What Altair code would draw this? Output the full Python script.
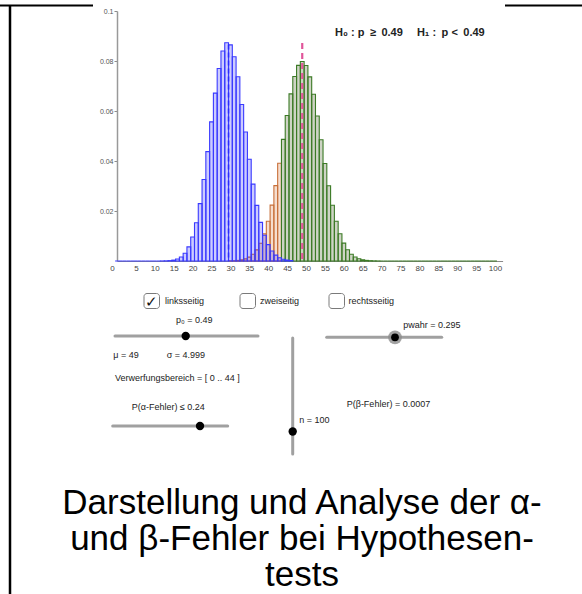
import altair as alt
import pandas as pd

# ---------------- data ----------------
# blue distribution (pwahr = 0.295), k = 0..46
blue_k = list(range(0, 47))
blue_p = [0, 0, 0, 0, 0, 0, 0, 0, 0, 0, 0, 0,
          0.00002, 0.00006, 0.00015, 0.00035, 0.00079, 0.00162, 0.00313, 0.00566,
          0.00959, 0.01529, 0.02297, 0.03259, 0.04375, 0.05565, 0.06717, 0.07703,
          0.08403, 0.0873, 0.08645, 0.08168, 0.0737, 0.06259, 0.05161, 0.04072,
          0.03077, 0.02227, 0.01545, 0.01028, 0.00656, 0.00402, 0.00236, 0.00133,
          0.00072, 0.00038, 0.00019]

# brown (rejection region part of p0 = 0.49 distribution), k = 30..43
brown_k = list(range(30, 44))
brown_p = [0.00005, 0.00011, 0.00023, 0.00045, 0.00085, 0.00155, 0.00268,
           0.00446, 0.0071, 0.01085, 0.0159, 0.02235, 0.03017, 0.0391]

# green (rest of p0 = 0.49 distribution), k = 44..100
green_k = list(range(44, 101))
green_p = [0.04866, 0.05818, 0.06684, 0.07378, 0.07827, 0.0798, 0.0782, 0.07366,
           0.06669, 0.05803, 0.04853, 0.039, 0.03011, 0.02233, 0.01591, 0.01088,
           0.00714, 0.0045, 0.00272, 0.00158, 0.00088, 0.00047, 0.00024, 0.00012,
           0.00005, 0.00002,
           0, 0, 0, 0, 0, 0, 0, 0, 0, 0, 0, 0, 0, 0, 0, 0, 0, 0, 0, 0, 0, 0, 0, 0,
           0, 0, 0, 0, 0, 0, 0]

mean_x = [29.5, 49]
mean_top = [0.0866, 0.0872]

x_ticks = list(range(0, 101, 5))
y_ticks = [0.02, 0.04, 0.06, 0.08, 0.1]

FONT = "Liberation Sans"
SP = "\u2002"  # en space (kept by SVG)

# ---------------- scales / axes ----------------
xs = alt.Scale(domain=[0, 102], range=[117, 502.6], nice=False, zero=False)
ys = alt.Scale(domain=[0, 0.1], range=[261, 11], nice=False)

xax = alt.Axis(values=x_ticks, title=None, offset=-333, grid=False, ticks=False,
               domainColor="#8a8a8a", domainWidth=1.2, labelFont=FONT,
               labelFontSize=8, labelColor="#444", labelPadding=3,
               labelFlush=False, labelOverlap=False,
               labelOffset={"condition": {"test": "datum.value == 0", "value": -5}, "value": 0})
yax = alt.Axis(values=y_ticks, title=None, offset=-117, grid=False, format=".2~f",
               tickSize=3, tickColor="#8a8a8a", domainColor="#999999", domainWidth=1.5,
               labelFont=FONT, labelFontSize=7, labelColor="#555", labelPadding=1)


def bars(k, p, stroke, fill, fop):
    df = pd.DataFrame({"k": k, "p": p})
    return alt.Chart(df).transform_calculate(
        lo="datum.k - 0.5", hi="datum.k + 0.5"
    ).mark_rect(stroke=stroke, strokeWidth=1.1, fill=fill, fillOpacity=fop).encode(
        x=alt.X("lo:Q", scale=xs, axis=xax),
        x2="hi:Q",
        y=alt.Y("p:Q", scale=ys, axis=yax),
        y2=alt.datum(0),
    )


def mean_line(i, color, dash, width):
    df = pd.DataFrame({"m": [mean_x[i]], "t": [mean_top[i]]})
    return alt.Chart(df).mark_rule(color=color, strokeDash=dash, strokeWidth=width).encode(
        x=alt.X("m:Q", scale=xs, axis=xax),
        y=alt.Y("t:Q", scale=ys, axis=yax),
        y2=alt.datum(0),
    )


one = pd.DataFrame({"d": [0]})


def txt(s, x, y, size=9, align="left", weight="normal", color="#222", baseline="middle"):
    return alt.Chart(one).mark_text(font=FONT, fontSize=size, align=align, fontWeight=weight,
                                    color=color, baseline=baseline).encode(
        x=alt.value(x), y=alt.value(y), text=alt.value(s))


def hline(x1, x2, y, color="#a0a0a0", width=3, cap="round"):
    return alt.Chart(one).mark_rule(color=color, strokeWidth=width, strokeCap=cap).encode(
        x=alt.value(x1), x2=alt.value(x2), y=alt.value(y))


def vline(x, y1, y2, color="#a0a0a0", width=3, cap="round"):
    return alt.Chart(one).mark_rule(color=color, strokeWidth=width, strokeCap=cap).encode(
        x=alt.value(x), y=alt.value(y1), y2=alt.value(y2))


def dot(x, y, size, color="black", opacity=1.0):
    return alt.Chart(one).mark_circle(size=size, color=color, opacity=opacity).encode(
        x=alt.value(x), y=alt.value(y))


def checkbox(x, y):
    return alt.Chart(one).mark_rect(fill="white", stroke="#7a7a7a", strokeWidth=1,
                                    cornerRadius=3).encode(
        x=alt.value(x), x2=alt.value(x + 15.5), y=alt.value(y), y2=alt.value(y + 15))


hyp = "H\u2080 : p" + SP + "\u2265" + SP + "0.49" + SP + SP + " H\u2081 :" + SP + "p <" + SP + "0.49"

layers = [
    bars(brown_k, brown_p, "#c8703a", "#e8a880", 0.38),
    bars(green_k, green_p, "#3b7a25", "#6b7d4f", 0.33),
    bars(blue_k, blue_p, "#3a3aff", "#0000ff", 0.2),
    mean_line(0, "#2a2aff", [5, 3], 1.5),
    mean_line(1, "#e0559a", [6, 4], 2.2),
    txt(hyp, 335, 33, size=11, weight="bold", color="#222"),
    # checkboxes
    checkbox(144, 293.5),
    txt("\u2713", 151.8, 301.5, size=15, align="center", color="#111"),
    txt("linksseitig", 165, 301),
    checkbox(240, 293.5),
    txt("zweiseitig", 260, 300.5),
    checkbox(329, 293.5),
    txt("rechtsseitig", 348.5, 301),
    # p0 slider
    txt("p\u2080 = 0.49", 176, 320),
    hline(115, 258, 336),
    dot(185.7, 336, 70),
    txt("\u03bc = 49", 113.3, 355),
    txt("\u03c3 = 4.999", 166.7, 355),
    txt("Verwerfungsbereich = [ 0 .. 44 ]", 115, 378),
    txt("P(\u03b1-Fehler) \u2264 0.24", 131.7, 406.7),
    hline(112.7, 227.7, 426),
    dot(200, 426, 70),
    # n slider (vertical)
    vline(292.7, 338, 454),
    dot(292.7, 431.5, 70),
    txt("n = 100", 299.3, 420),
    # pwahr slider
    txt("pwahr = 0.295", 403.3, 325),
    hline(326.7, 441.7, 337.3),
    dot(395, 337.3, 190, color="#8c8c8c", opacity=0.8),
    dot(395, 337.3, 60),
    txt("P(\u03b2-Fehler) = 0.0007", 346.7, 404),
    # frame lines
    vline(10, 5, 594, color="black", width=2.5, cap="butt"),
    hline(0, 93, 5.5, color="black", width=2.2, cap="butt"),
    hline(505, 582, 5.5, color="black", width=2.2, cap="butt"),
    # title
    txt("Darstellung und Analyse der \u03b1-", 302, 514, size=35, align="center", color="black", baseline="alphabetic"),
    txt("und \u03b2-Fehler bei Hypothesen-", 302, 550, size=35, align="center", color="black", baseline="alphabetic"),
    txt("tests", 302, 586, size=35, align="center", color="black", baseline="alphabetic"),
]

chart = alt.layer(*layers).properties(
    width=582, height=594, padding=0,
    autosize=alt.AutoSizeParams(type="none"),
    background="white",
).configure_view(stroke=None)

chart.save("out.html", embed_options={"renderer": "svg", "actions": False})
